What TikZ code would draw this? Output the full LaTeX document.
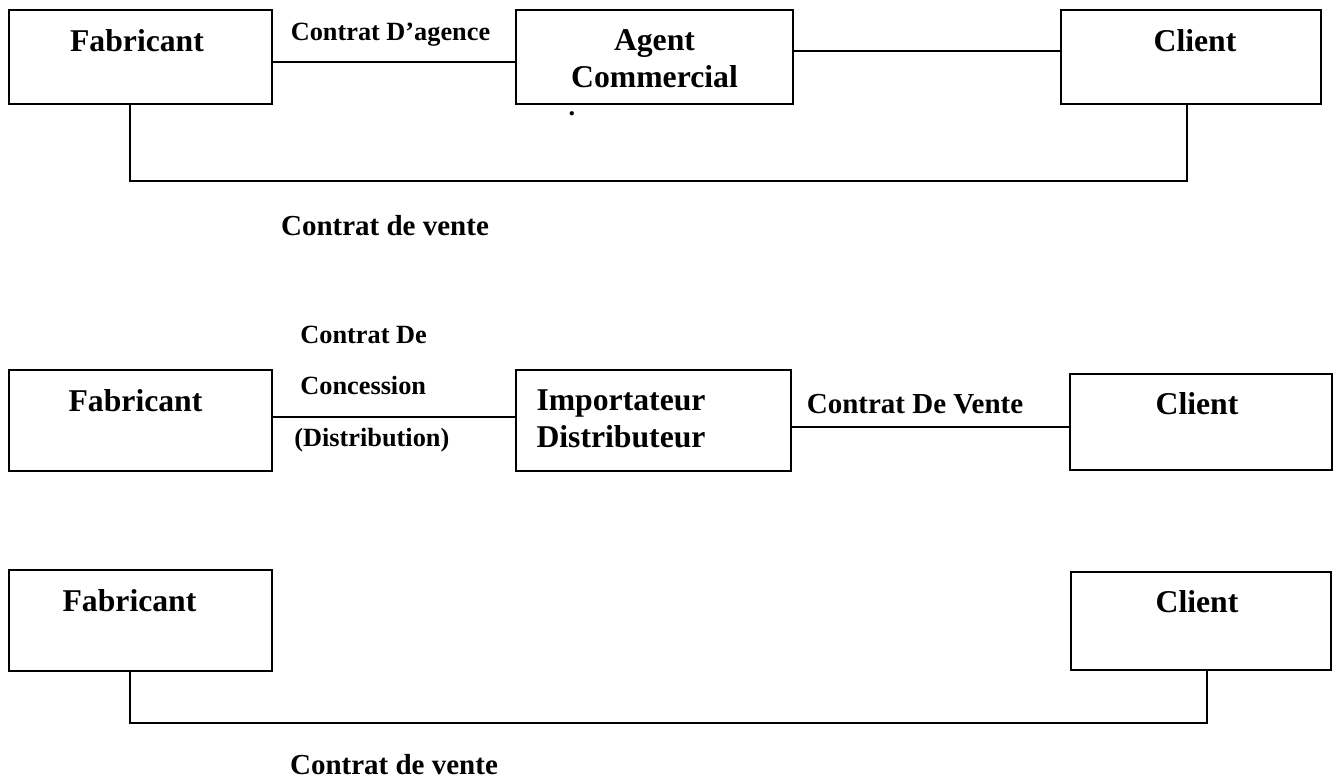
\documentclass[tikz,border=0pt]{standalone}
\usepackage{fontspec}
\setmainfont{Liberation Serif}
\usepackage{xcolor}
\usepackage{tikz}
\usetikzlibrary{calc}

\begin{document}
\begin{tikzpicture}[
    x=0.5pt, y=-0.5pt,
    font=\bfseries,
    party/.style={
        draw,
        line width=0.9pt,
        minimum width=131.5pt,
        minimum height=47pt,
        inner sep=0pt
    },
    partytext/.style={
        font=\fontsize{15.85}{19}\selectfont\bfseries,
        inner sep=0pt,
        anchor=base
    },
    contract/.style={
        font=\fontsize{13.15}{16}\selectfont\bfseries,
        inner sep=0pt,
        anchor=base
    },
    sale/.style={
        font=\fontsize{14.5}{17}\selectfont\bfseries,
        inner sep=0pt,
        anchor=base
    },
    link/.style={
        line width=0.9pt
    }
]
\useasboundingbox (0,0) rectangle (1337,778);

% First row: agency
\node[party] (fab1) at (140.5,57) {};
\node[party, minimum width=138.5pt] (agent) at (654.5,57) {};
\node[party, minimum width=130pt] (client1) at (1191,57) {};

\node[partytext] (fab1txt) at ($(fab1.north)+(-3.5,42)$) {Fabricant};
\node[partytext] (agenttxt1) at ($(agent.north)+(0,41)$) {Agent};
\node[partytext] (agenttxt2) at ($(agent.north)+(0,78)$) {Commercial};
\node[partytext] (client1txt) at ($(client1.north)+(4,42)$) {Client};
\node[contract] (dot) at (572,115.5) {.};

% Links
\draw[link] ($(fab1.east)+(0,5)$) -- node[contract, xshift=-1.75pt, yshift=11pt] (agency) {Contrat D’agence} ($(agent.west)+(0,5)$);
\draw[link] ($(agent.east)+(0,-6)$) -- ($(client1.west)+(0,-6)$);
\draw[link] ($(fab1.south)+(-10.5,0)$) -- ++(0,76) -| ($(client1.south)+(-4,0)$);
\node[sale] (sale1) at (385,235) {Contrat de vente};

% Second row: distribution
\node[party, minimum height=50.5pt] (fab2) at (140.5,420.5) {};
\node[party, minimum width=137.5pt, minimum height=50.5pt] (imp) at (653.5,420.5) {};
\node[party, minimum width=131pt, minimum height=48pt] (client2) at (1201,422) {};

\node[partytext] (fab2txt) at ($(fab2.north)+(-5,42)$) {Fabricant};
\node[partytext, anchor=base west] (imptxt1) at ($(imp.north west)+(21,41)$) {Importateur};
\node[partytext, anchor=base west] (imptxt2) at ($(imp.north west)+(21,78)$) {Distributeur};
\node[partytext] (client2txt) at ($(client2.north)+(-4,41)$) {Client};

% Links
\draw[link] ($(fab2.east)+(0,-3.5)$) -- ($(imp.west)+(0,-3.5)$);
\node[contract, anchor=base west] (conc1) at (300,343) {Contrat De};
\node[contract, anchor=base west] (conc2) at (300,394) {Concession};
\node[contract, anchor=base west] (conc3) at (294,446) {(Distribution)};
\draw[link] ($(imp.east)+(0,6.5)$) coordinate (i2) -- node[sale, xshift=-7.75pt, yshift=7pt] (sale2) {Contrat De Vente} (i2 -| client2.west);

% Third row: direct sale
\node[party, minimum height=50.5pt] (fab3) at (140.5,620.5) {};
\node[party, minimum width=130pt, minimum height=49pt] (client3) at (1201,621) {};

\node[partytext] (fab3txt) at ($(fab3.north)+(-11,42)$) {Fabricant};
\node[partytext] (client3txt) at ($(client3.north)+(-4,41)$) {Client};

\draw[link] ($(fab3.south)+(-10.5,0)$) -- ++(0,51) -| ($(client3.south)+(6,0)$);
\node[sale] (sale3) at (394,774) {Contrat de vente};

\end{tikzpicture}
\end{document}
